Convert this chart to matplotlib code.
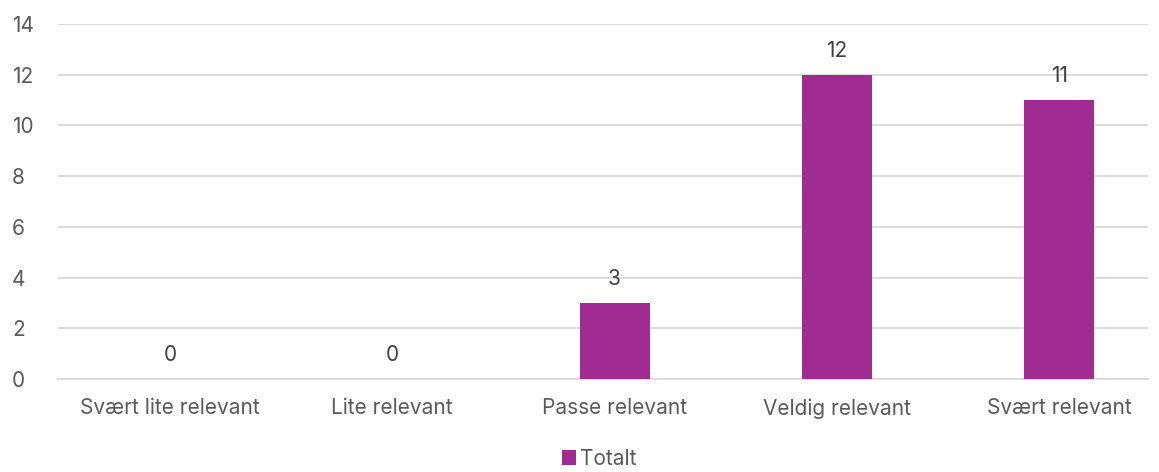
import matplotlib.pyplot as plt
import numpy as np

categories = ['Svært lite relevant', 'Lite relevant', 'Passe relevant', 'Veldig relevant', 'Svært relevant']
values = [0, 0, 3, 12, 11]
series_name = 'Totalt'
yticks = [0, 2, 4, 6, 8, 10, 12, 14]

plt.rcParams['font.family'] = ['Inter', 'DejaVu Sans']
text_col = '#595959'
fs = 15

fig = plt.figure(figsize=(11.59, 4.72), dpi=100)
ax = fig.add_axes([58 / 1159, 93 / 472, 1090 / 1159, 355 / 472])

x = np.arange(len(categories))
ax.bar(x, values, width=0.315, color='#A02B93', label=series_name, zorder=3)

for xi, v in zip(x, values):
    ax.text(xi, v + 0.55, str(v), ha='center', va='bottom', fontsize=fs, color='#404040')

ax.set_xlim(-0.504, 4.40)
ax.set_ylim(0, 14)
ax.set_yticks(yticks)
ax.set_xticks(x)
ax.set_xticklabels(categories)
ax.grid(axis='y', color='#D9D9D9', linewidth=1.3, zorder=0)
ax.tick_params(axis='both', length=0, labelsize=fs, labelcolor=text_col)
ax.tick_params(axis='x', pad=14)
ax.tick_params(axis='y', pad=33)
for lbl in ax.get_yticklabels():
    lbl.set_horizontalalignment('left')
for s in ['top', 'right', 'left']:
    ax.spines[s].set_visible(False)
ax.spines['bottom'].set_color('#D9D9D9')
ax.spines['bottom'].set_linewidth(1.3)

fig.legend(loc='lower center', bbox_to_anchor=(0.517, -0.033), frameon=False,
           fontsize=fs, labelcolor=text_col, handlelength=0.7, handleheight=0.7,
           handletextpad=0.2)

fig.savefig('out.png', dpi=100)
